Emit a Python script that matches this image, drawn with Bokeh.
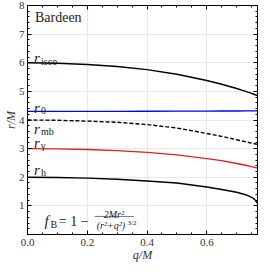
from bokeh.plotting import figure
from bokeh.models import Range1d, LinearAxis, FixedTicker, Label, ColumnDataSource
from bokeh.embed import file_html
from bokeh.resources import INLINE

# ---- data ----
q_vals = [0.0, 0.1, 0.2, 0.3, 0.4, 0.5, 0.6, 0.65, 0.7, 0.73, 0.75, 0.76, 0.7698]
r_h = [2.0, 1.992, 1.97, 1.93, 1.87, 1.80, 1.66, 1.57, 1.475, 1.39, 1.30, 1.225, 1.09]
r_gamma = [3.0, 2.99, 2.97, 2.93, 2.87, 2.78, 2.65, 2.58, 2.48, 2.42, 2.37, 2.345, 2.32]
r_mb = [4.0, 3.99, 3.96, 3.92, 3.84, 3.72, 3.53, 3.43, 3.31, 3.24, 3.19, 3.17, 3.15]
r_0 = [4.30, 4.30, 4.30, 4.30, 4.305, 4.31, 4.31, 4.315, 4.315, 4.32, 4.32, 4.32, 4.32]
r_isco = [6.0, 5.98, 5.94, 5.87, 5.76, 5.60, 5.38, 5.25, 5.10, 5.00, 4.93, 4.89, 4.85]

x_ticks = [0.0, 0.2, 0.4, 0.6]
y_ticks = [0, 1, 2, 3, 4, 5, 6, 7, 8]
x_tick_labels = {0.0: "0.0", 0.2: "0.2", 0.4: "0.4", 0.6: "0.6"}
y_tick_labels = {0: "", 1: "1", 2: "2", 3: "3", 4: "4", 5: "5", 6: "6", 7: "7", 8: "8"}

FONT = "Liberation Serif"

src = ColumnDataSource(dict(q=q_vals, h=r_h, g=r_gamma, mb=r_mb, r0=r_0, isco=r_isco))

p = figure(width=262, height=264, output_backend="svg", toolbar_location=None,
           x_range=Range1d(0, 0.7698), y_range=Range1d(0, 8),
           min_border_left=0, min_border_right=5, min_border_top=5, min_border_bottom=0)
p.outline_line_color = "black"
p.outline_line_width = 1
p.background_fill_color = "white"
p.border_fill_color = "white"

# grid
p.xgrid.ticker = FixedTicker(ticks=x_ticks)
p.ygrid.ticker = FixedTicker(ticks=y_ticks)
p.grid.grid_line_color = "#e8e8e8"
p.grid.grid_line_width = 1


def style_axis(ax, ticks, minor, show_labels=True):
    ax.ticker = FixedTicker(ticks=ticks, minor_ticks=minor)
    ax.major_tick_in = 4
    ax.major_tick_out = 0
    ax.minor_tick_in = 2
    ax.minor_tick_out = 0
    ax.axis_line_color = "black"
    ax.major_tick_line_color = "black"
    ax.minor_tick_line_color = "black"
    ax.major_label_text_font = FONT
    ax.major_label_text_font_size = "11px"
    ax.major_label_text_color = "#333333"
    ax.major_label_text_line_height = 1.0
    ax.major_label_standoff = 4
    ax.axis_label_text_font = FONT
    ax.axis_label_text_font_style = "italic"
    ax.axis_label_text_font_size = "12px"
    ax.axis_label_text_color = "#333333"
    ax.axis_label_text_line_height = 0.8
    ax.axis_label_standoff = -1
    if not show_labels:
        ax.major_label_text_color = None
        ax.major_label_text_font_size = "1px"
        ax.major_label_standoff = 0
        ax.axis_label = None


x_minor = [i * 0.05 for i in range(0, 16)]
y_minor = [i * 0.2 for i in range(0, 41)]

style_axis(p.xaxis[0], x_ticks, x_minor)
p.xaxis[0].major_label_overrides = x_tick_labels
p.xaxis[0].axis_label = "q/M"
style_axis(p.yaxis[0], y_ticks, y_minor)
p.yaxis[0].major_label_overrides = y_tick_labels
p.yaxis[0].axis_label = "r/M"
p.yaxis[0].major_label_standoff = 3
p.yaxis[0].axis_label_standoff = -2

top_ax = LinearAxis()
style_axis(top_ax, x_ticks, x_minor, show_labels=False)
p.add_layout(top_ax, "above")
right_ax = LinearAxis()
style_axis(right_ax, y_ticks, y_minor, show_labels=False)
p.add_layout(right_ax, "right")

# curves
p.line("q", "isco", source=src, line_color="black", line_width=1.4)
p.line("q", "r0", source=src, line_color="#0000ff", line_width=1.4)
p.line("q", "mb", source=src, line_color="black", line_width=1.4, line_dash="4 2")
p.line("q", "g", source=src, line_color="#e0201c", line_width=1.4)
p.line("q", "h", source=src, line_color="black", line_width=1.4)


def lab(x, y, text, size, style="normal", align="left", baseline="alphabetic", xoff=0, yoff=0):
    p.add_layout(Label(x=x, y=y, text=text, text_font=FONT, text_font_size=size,
                       text_font_style=style, text_align=align, text_baseline=baseline,
                       text_color="#222222", x_offset=xoff, y_offset=yoff))


# title
lab(0.025, 7.86, "Bardeen", "14px", baseline="top")

# curve labels: italic r with roman subscript
curve_labels = [(6.15, "isco"), (4.42, "0"), (3.70, "mb"), (3.20, "γ"), (2.27, "h")]
for yb, sub in curve_labels:
    lab(0.022, yb, "r", "15px", style="italic")
    lab(0.022, yb, sub, "10px", xoff=7, yoff=-3)

# formula f_B = 1 - 2Mr^2 / (r^2+q^2)^{3/2}
lab(0.057, 0.47, "f", "15px", style="italic")
lab(0.057, 0.47, "B", "10px", xoff=6, yoff=-3)
lab(0.105, 0.47, "= 1 −", "14px")
lab(0.289, 0.70, "2Mr²", "10px", style="italic", align="center")
lab(0.279, 0.30, "(r²+q²)", "10px", style="italic", align="center")
lab(0.335, 0.41, "3/2", "7px", align="left")
p.line(x=[0.225, 0.356], y=[0.63, 0.63], line_color="#222222", line_width=0.6)

open("out.html", "w").write(file_html(p, INLINE))
